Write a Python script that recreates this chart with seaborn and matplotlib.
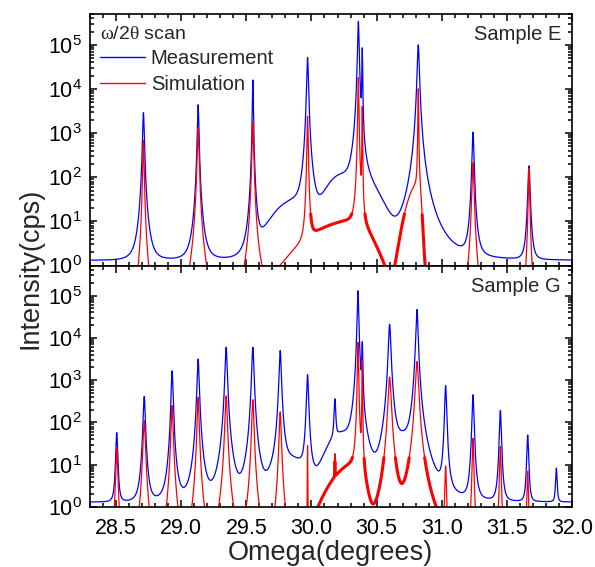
import numpy as np
import pandas as pd
import matplotlib
matplotlib.use("Agg")
import matplotlib.pyplot as plt
import seaborn as sns
from matplotlib.lines import Line2D
from matplotlib.ticker import MultipleLocator, LogLocator, NullFormatter

# ---------------------------------------------------------------- data
# Sample E, measured reflections: position (deg), peak intensity (cps), half width (deg)
e_meas_pos = [28.71, 29.13, 29.55, 29.97, 30.36, 30.39, 30.82, 31.24, 31.67]
e_meas_height = [2900, 4400, 16000, 52000, 340000, 84000, 100000, 1050, 180]
e_meas_width = [0.0046, 0.0040, 0.0026, 0.0045, 0.0039, 0.0020, 0.0055, 0.0049, 0.0057]
# Sample E, diffuse measured intensity: centre, height, left / right spread
e_meas_diff_pos = [29.85, 30.22, 30.40]
e_meas_diff_height = [25, 100, 60]
e_meas_diff_left = [0.12, 0.09, 0.05]
e_meas_diff_right = [0.10, 0.09, 0.10]

# Sample E, simulated reflections
e_sim_pos = [28.71, 29.13, 29.55, 29.97, 30.36, 30.39, 30.82, 31.24, 31.67]
e_sim_height = [700, 1300, 1800, 2400, 18000, 4000, 10000, 215, 160]
e_sim_width = [0.0035, 0.0046, 0.0041, 0.0030, 0.0025, 0.0015, 0.0018, 0.0051, 0.0035]
e_sim_diff_pos = [30.30, 30.82]
e_sim_diff_height = [10, 70]
e_sim_diff_left = [0.25, 0.060]
e_sim_diff_right = [0.12, 0.015]

# Sample G, measured reflections
g_meas_pos = [28.505, 28.716, 28.93, 29.13, 29.345, 29.55, 29.76, 29.97, 30.18,
              30.357, 30.39, 30.60, 30.81, 31.03, 31.24, 31.45, 31.66, 31.88]
g_meas_height = [56, 410, 1660, 3150, 6000, 6000, 5000, 1340, 315,
                 130000, 7600, 21000, 47000, 740, 450, 190, 49, 7]
g_meas_width = [0.0052, 0.0058, 0.0050, 0.0055, 0.0058, 0.0058, 0.0058, 0.0055, 0.0050,
                0.0040, 0.0030, 0.0065, 0.0057, 0.0050, 0.0050, 0.0050, 0.0050, 0.0050]
g_meas_diff_pos = [29.85, 30.22, 30.70]
g_meas_diff_height = [12, 50, 35]
g_meas_diff_left = [0.10, 0.08, 0.06]
g_meas_diff_right = [0.10, 0.08, 0.06]

# Sample G, simulated reflections
g_sim_pos = [28.505, 28.716, 28.93, 29.13, 29.345, 29.55, 29.76, 29.97, 30.18,
             30.357, 30.39, 30.60, 30.81, 31.03, 31.24, 31.45, 31.66]
g_sim_height = [25, 110, 250, 390, 425, 345, 178, 28, 13,
                7800, 3000, 1180, 2770, 9, 42, 27, 7]
g_sim_width = [0.0050, 0.0062, 0.0055, 0.0051, 0.0059, 0.0055, 0.0055, 0.0010, 0.0010,
               0.0028, 0.0015, 0.0080, 0.0080, 0.0040, 0.0040, 0.0040, 0.0040]
g_sim_diff_pos = [30.33]
g_sim_diff_height = [10]
g_sim_diff_left = [0.13]
g_sim_diff_right = [0.05]

meas_background = 1.3          # detector floor (cps)
profile_shape = 1.5            # Pearson VII exponent of the reflections
x_ticks = [28.5, 29.0, 29.5, 30.0, 30.5, 31.0, 31.5, 32.0]
x_tick_labels = ["28.5", "29.0", "29.5", "30.0", "30.5", "31.0", "31.5", "32.0"]

# ---------------------------------------------------------------- profiles
omega = np.arange(28.30, 32.0001, 0.0005)


def pearson7(x, pos, height, width, m=profile_shape):
    k = 2.0 ** (1.0 / m) - 1.0
    out = np.zeros_like(x)
    for p, h, w in zip(pos, height, width):
        out += h / (1.0 + k * ((x - p) / w) ** 2) ** m
    return out


def split_gauss(x, pos, height, left, right):
    out = np.zeros_like(x)
    for p, h, sl, sr in zip(pos, height, left, right):
        s = np.where(x < p, sl, sr)
        out += h * np.exp(-0.5 * ((x - p) / s) ** 2)
    return out


def build(meas, sim):
    m = meas_background + pearson7(omega, *meas[:3]) + split_gauss(omega, *meas[3:])
    s = pearson7(omega, *sim[:3]) + split_gauss(omega, *sim[3:]) + 1e-3
    return m, s


e_m, e_s = build((e_meas_pos, e_meas_height, e_meas_width, e_meas_diff_pos,
                  e_meas_diff_height, e_meas_diff_left, e_meas_diff_right),
                 (e_sim_pos, e_sim_height, e_sim_width, e_sim_diff_pos,
                  e_sim_diff_height, e_sim_diff_left, e_sim_diff_right))
g_m, g_s = build((g_meas_pos, g_meas_height, g_meas_width, g_meas_diff_pos,
                  g_meas_diff_height, g_meas_diff_left, g_meas_diff_right),
                 (g_sim_pos, g_sim_height, g_sim_width, g_sim_diff_pos,
                  g_sim_diff_height, g_sim_diff_left, g_sim_diff_right))

# ---------------------------------------------------------------- style
sns.set_theme(style="ticks")
plt.rcParams["font.family"] = ["Liberation Sans", "DejaVu Sans"]
plt.rcParams["mathtext.fontset"] = "custom"
plt.rcParams["mathtext.rm"] = "Liberation Sans"
plt.rcParams["mathtext.sf"] = "Liberation Serif"
plt.rcParams["mathtext.it"] = "Liberation Sans:italic"

BLUE = "#0000ff"
RED = "#ff0000"

fig = plt.figure(figsize=(5.95, 5.67), dpi=100)
ax_e = fig.add_axes([0.1513, 0.5317, 0.8100, 0.4436])
ax_g = fig.add_axes([0.1513, 0.1058, 0.8100, 0.4250], sharex=ax_e)


def draw(ax, meas, sim, label):
    df_m = pd.DataFrame({"omega": omega, "cps": meas})
    df_s = pd.DataFrame({"omega": omega, "cps": sim})
    sns.lineplot(data=df_m, x="omega", y="cps", ax=ax, color=BLUE, lw=0.9,
                 estimator=None, sort=False)
    sns.lineplot(data=df_s, x="omega", y="cps", ax=ax, color=RED, lw=0.9,
                 estimator=None, sort=False)
    # dense thickness-fringe band of the simulation, drawn as a heavy stroke
    band = (sim < 15) & (sim > 0.3) & (omega > 29.99) & (omega < 31.0)
    seg = np.cumsum(np.r_[1, np.diff(band.astype(int)) != 0])
    df_b = pd.DataFrame({"omega": omega[band], "cps": sim[band], "seg": seg[band]})
    sns.lineplot(data=df_b, x="omega", y="cps", units="seg", ax=ax, color=RED,
                 lw=2.2, estimator=None, sort=False)
    ax.set_yscale("log")
    ax.set_ylim(1, 5e5)
    ax.set_xlim(28.3, 32.0)
    ax.set_xlabel("")
    ax.set_ylabel("")
    ax.yaxis.set_major_locator(LogLocator(base=10, numticks=10))
    ax.yaxis.set_minor_locator(LogLocator(base=10, subs=np.arange(2, 10), numticks=20))
    ax.yaxis.set_minor_formatter(NullFormatter())
    ax.xaxis.set_major_locator(MultipleLocator(0.5))
    ax.xaxis.set_minor_locator(MultipleLocator(0.1))
    ax.tick_params(which="both", direction="in", top=True, right=True,
                   width=1.1, colors="black", labelsize=15.5, pad=6)
    ax.tick_params(which="major", length=5)
    ax.tick_params(which="minor", length=3)
    for sp in ax.spines.values():
        sp.set_linewidth(1.2)
        sp.set_color("black")
    ax.text(0.977, 0.955, label, transform=ax.transAxes, ha="right", va="top",
            fontsize=14.5)


draw(ax_e, e_m, e_s, "Sample E")
draw(ax_g, g_m, g_s, "Sample G")

ax_e.tick_params(labelbottom=False)
ax_g.set_xticks(x_ticks)
ax_g.set_xticklabels(x_tick_labels)
ax_g.tick_params(axis="x", pad=8)

handles = [Line2D([], [], color=BLUE, lw=1.0), Line2D([], [], color=RED, lw=1.0)]
leg = ax_e.legend(handles, ["Measurement", "Simulation"],
                  title=r"$\mathsf{\omega}$/2$\mathsf{\theta}$ scan",
                  loc="upper left", bbox_to_anchor=(0.005, 0.985), frameon=False,
                  fontsize=14.5, title_fontsize=14, alignment="left",
                  handlelength=2.2, handletextpad=0.3, labelspacing=0.33,
                  borderaxespad=0.2, borderpad=0.2)

fig.text(0.052, 0.527, "Intensity(cps)", rotation=90, ha="center", va="center",
         fontsize=19.5)
fig.text(0.556, 0.025, "Omega(degrees)", ha="center", va="center", fontsize=19.5)

fig.savefig("out.png", dpi=100)
